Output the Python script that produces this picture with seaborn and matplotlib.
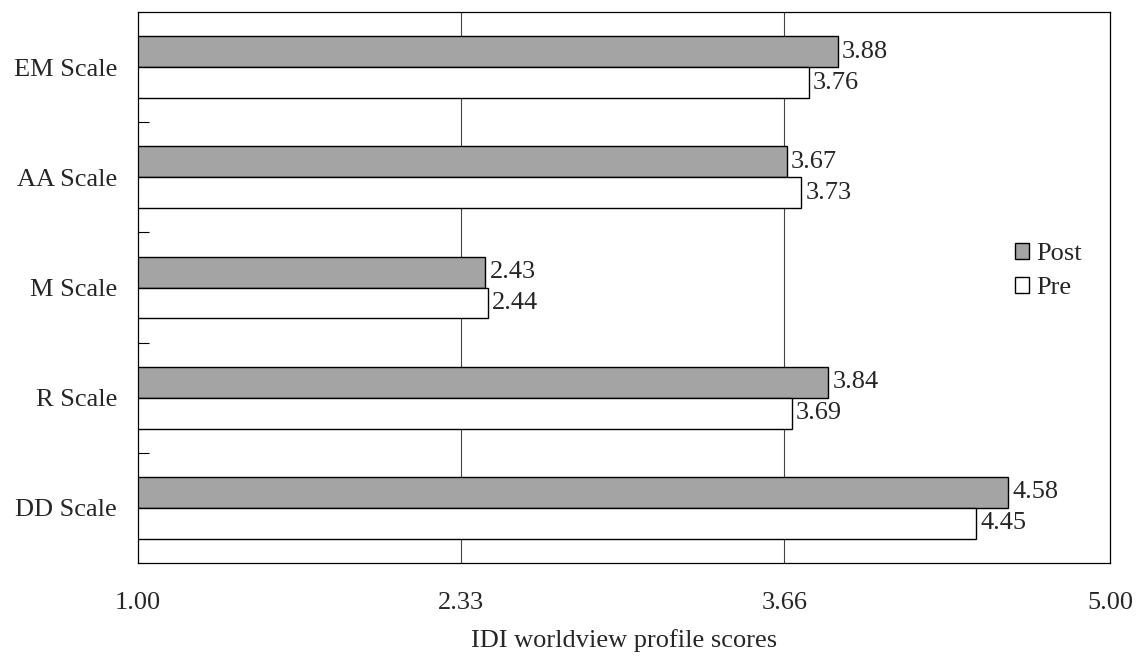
import matplotlib
matplotlib.use("Agg")
import matplotlib.pyplot as plt
import seaborn as sns
import pandas as pd

categories = ["EM Scale", "AA Scale", "M Scale", "R Scale", "DD Scale"]
post_values = [3.88, 3.67, 2.43, 3.84, 4.58]
pre_values = [3.76, 3.73, 2.44, 3.69, 4.45]
series = ["Post", "Pre"]
x_ticks = [1.00, 2.33, 3.66, 5.00]

df = pd.DataFrame({
    "scale": categories * 2,
    "score": post_values + pre_values,
    "time": ["Post"] * len(categories) + ["Pre"] * len(categories),
})

sns.set_style("white")
plt.rcParams["font.family"] = ["Liberation Serif", "DejaVu Serif"]
FS = 19

fig = plt.figure(figsize=(11.36, 6.59), dpi=100)
ax = fig.add_axes([138 / 1136, 1 - 563 / 659, (1110 - 138) / 1136, (563 - 12) / 659])

palette = {"Post": "#a4a4a4", "Pre": "#ffffff"}
sns.barplot(data=df, y="scale", x="score", hue="time", order=categories,
            hue_order=series, palette=palette, orient="h", width=0.56,
            edgecolor="black", linewidth=1.0, ax=ax, legend=True, saturation=1)

for cont in ax.containers:
    ax.bar_label(cont, fmt="%.2f", padding=3, fontsize=FS)

ax.set_xlim(1.0, 5.0)
ax.set_ylim(len(categories) - 0.5, -0.5)
ax.set_xticks(x_ticks)
ax.set_xticklabels([f"{v:.2f}" for v in x_ticks], fontsize=FS)
ax.tick_params(axis="x", length=0, pad=21)
ax.set_yticks(range(len(categories)))
ax.set_yticklabels(categories, fontsize=FS)
ax.tick_params(axis="y", which="major", length=0, pad=15)
# minor ticks at category boundaries
ax.set_yticks([i + 0.5 for i in range(len(categories) - 1)], minor=True)
ax.tick_params(axis="y", which="minor", direction="in", left=True, length=8,
               width=0.8, color="black")

for v in x_ticks[1:-1]:
    ax.axvline(v, color="#444444", linewidth=0.8, zorder=0)

for s in ax.spines.values():
    s.set_visible(True)
    s.set_color("black")
    s.set_linewidth(0.9)

ax.set_ylabel("")
ax.set_xlabel("IDI worldview profile scores", fontsize=FS, labelpad=11)

leg = ax.legend(loc="center left", bbox_to_anchor=(0.902, 0.53), frameon=False,
                fontsize=FS, handlelength=0.55, handleheight=0.55, handletextpad=0.25,
                labelspacing=0.45, borderaxespad=0, borderpad=0)

fig.savefig("out.png", dpi=100)
